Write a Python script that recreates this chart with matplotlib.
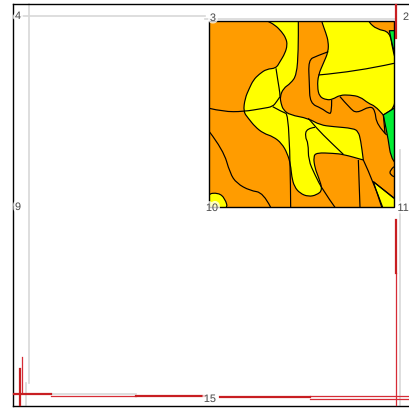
"""Soil map sketch: small polygon map inside a page frame with corner labels."""
import matplotlib
matplotlib.use("Agg")
import matplotlib.pyplot as plt
import matplotlib.patheffects as pe
from matplotlib.patches import PathPatch, Rectangle
from matplotlib.path import Path

ORANGE = "#ff9c00"
YELLOW = "#ffff00"
GREEN = "#00ee33"
RED = "#c81e22"
PINK = "#d62c36"
GREY = "#d8d8d8"

map_box = [(28, 62), (582, 622)]

yellow_mid = [(200, 62), (200, 62), (225, 75), (245, 95), (258, 115), (262, 135), (255, 160), (240, 185),
              (228, 205), (200, 207), (178, 222), (160, 240), (148, 265), (135, 295), (130, 335),
              (145, 355), (165, 380), (190, 400), (220, 410), (245, 430), (262, 460), (272, 495),
              (275, 530), (283, 560), (300, 580), (325, 590), (350, 585), (368, 570), (355, 530),
              (345, 505), (340, 470), (350, 458), (400, 460), (430, 463), (490, 480), (490, 480),
              (482, 420), (475, 395), (460, 385), (400, 380), (360, 375), (325, 355), (270, 345),
              (250, 330), (243, 310), (240, 290), (250, 265), (272, 250), (290, 225), (295, 150),
              (295, 62), (295, 62)]
yellow_top = [(365, 55), (365, 65), (378, 100), (385, 125), (385, 155), (370, 190), (355, 225), (352, 260),
              (358, 290), (380, 300), (398, 298), (420, 285), (450, 285), (480, 290), (505, 310),
              (525, 318), (550, 345), (550, 345), (590, 320), (590, 190), (578, 150), (570, 95),
              (530, 88), (505, 65), (505, 55)]
yellow_corner = [(520, 545), (520, 545), (548, 630), (548, 630), (590, 630), (590, 600), (590, 600)]
yellow_left = [(20, 582), (55, 578), (75, 595), (85, 630), (20, 630)]

green_low = [(550, 345), (550, 345), (590, 320), (590, 320), (590, 495), (590, 495), (572, 470), (565, 420), (555, 370)]
green_top = [(568, 92), (568, 92), (590, 92), (590, 92), (590, 178), (590, 178), (578, 140)]

boundaries = [
    [(28, 325), (70, 335), (130, 335), (190, 325), (218, 320), (230, 305), (240, 290)],
    [(228, 205), (234, 245), (240, 280), (240, 290)],
    [(218, 320), (245, 335), (270, 345), (272, 622)],
    [(325, 355), (350, 385), (390, 425), (430, 463)],
    [(345, 382), (320, 385), (315, 410), (325, 430), (325, 480), (345, 525), (368, 570), (405, 622)],
    [(355, 225), (470, 215), (582, 190)],
    [(385, 155), (350, 168), (325, 180), (328, 250), (330, 310), (365, 325), (385, 340), (395, 340), (395, 300)],
    [(490, 480), (520, 545), (548, 622)],
    [(475, 480), (480, 622)],
    [(520, 545), (582, 595)],
    [(28, 395), (70, 450), (90, 520), (110, 550), (150, 572), (190, 578), (212, 622)],
    [(420, 290), (450, 325), (470, 340), (510, 318), (525, 330), (530, 375), (560, 405)],
    [(550, 345), (555, 400)],
    [(582, 500), (570, 510), (570, 525), (582, 530)],
]

# page lines in image pixels
frame_lines = [[(13, 4), (409, 4)], [(13, 4), (13, 406)], [(13, 406), (409, 406)]]
grey_lines = [
    [(22, 16.5), (205, 16.5)], [(28.5, 4), (28.5, 383)], [(25.5, 383), (25.5, 405)],
    [(205, 19.5), (395, 19.5)], [(399.5, 150), (399.5, 405)], [(51, 393.5), (136, 393.5)],
]
red_thick = [
    [(14, 393.5), (51, 393.5)], [(136, 395.5), (205, 395.5)], [(220, 396.5), (310, 396.5)],
    [(19.5, 369), (19.5, 405)], [(396, 5), (396, 38)], [(395.5, 220), (395.5, 273)],
]
red_thin = [
    [(51, 395.5), (136, 395.5)], [(310, 395.5), (409, 395.5)], [(310, 398.5), (409, 398.5)],
    [(21.5, 357), (21.5, 392)], [(395.5, 273), (395.5, 405)],
]

labels = ["4", "3", "2", "9", "10", "11", "15"]
label_x = [18, 213, 409, 18, 212, 409, 210]
label_y = [16, 18, 17, 207, 208, 208, 399]
label_ha = ["center", "center", "right", "center", "center", "right", "center"]


def to_page(point):
    """Convert a crop coordinate to image pixels."""
    return 200 + point[0] / 3, point[1] / 3


def curved_path(points, closed=False):
    """Round a digitised outline with quadratic segments between point midpoints."""
    pts = [to_page(p) for p in points]
    mid = lambda a, b: ((a[0] + b[0]) / 2, (a[1] + b[1]) / 2)
    if closed:
        verts = [mid(pts[-1], pts[0])]
        codes = [Path.MOVETO]
        for i, p in enumerate(pts):
            verts += [p, mid(p, pts[(i + 1) % len(pts)])]
            codes += [Path.CURVE3, Path.CURVE3]
    else:
        verts = [pts[0]]
        codes = [Path.MOVETO]
        for i in range(1, len(pts) - 1):
            end = mid(pts[i], pts[i + 1]) if i < len(pts) - 2 else pts[-1]
            verts += [pts[i], end]
            codes += [Path.CURVE3, Path.CURVE3]
        if len(pts) == 2:
            verts.append(pts[1])
            codes.append(Path.LINETO)
    return Path(verts, codes)


def main():
    fig = plt.figure(figsize=(4.09, 4.11), dpi=100)
    ax = fig.add_axes([0, 0, 1, 1])
    ax.set_xlim(0, 409)
    ax.set_ylim(411, 0)
    ax.axis("off")

    for line in grey_lines:
        ax.plot(*zip(*line), color=GREY, lw=1.2, zorder=1)
    for line in frame_lines:
        ax.plot(*zip(*line), color="black", lw=1.0, zorder=2)

    x0, y0 = to_page(map_box[0])
    x1, y1 = to_page(map_box[1])
    box = Rectangle((x0, y0), x1 - x0, y1 - y0, facecolor=ORANGE, edgecolor="none", zorder=3)
    ax.add_patch(box)

    for part, color in [(yellow_mid, YELLOW), (yellow_top, YELLOW), (yellow_corner, YELLOW),
                        (yellow_left, YELLOW), (green_low, GREEN), (green_top, GREEN)]:
        patch = PathPatch(curved_path(part, closed=True), facecolor=color, edgecolor="black", lw=0.85, zorder=4)
        ax.add_patch(patch)
        patch.set_clip_path(box)
    for part in boundaries:
        patch = PathPatch(curved_path(part), facecolor="none", edgecolor="black", lw=0.85, zorder=6)
        ax.add_patch(patch)
        patch.set_clip_path(box)
    ax.add_patch(Rectangle((x0, y0), x1 - x0, y1 - y0, fill=False, edgecolor="black", lw=1.0, zorder=7))

    for line in red_thin:
        ax.plot(*zip(*line), color=PINK, lw=0.9, zorder=8)
    for line in red_thick:
        ax.plot(*zip(*line), color=RED, lw=1.6, zorder=9)

    for text, tx, ty, ha in zip(labels, label_x, label_y, label_ha):
        ax.text(tx, ty, text, color="#505050", fontsize=7.8, family="Liberation Sans",
                ha=ha, va="center", zorder=10,
                path_effects=[pe.withStroke(linewidth=3.5, foreground="white", alpha=0.75)])

    fig.savefig("out.png", dpi=100, facecolor="white")


if __name__ == "__main__":
    main()
